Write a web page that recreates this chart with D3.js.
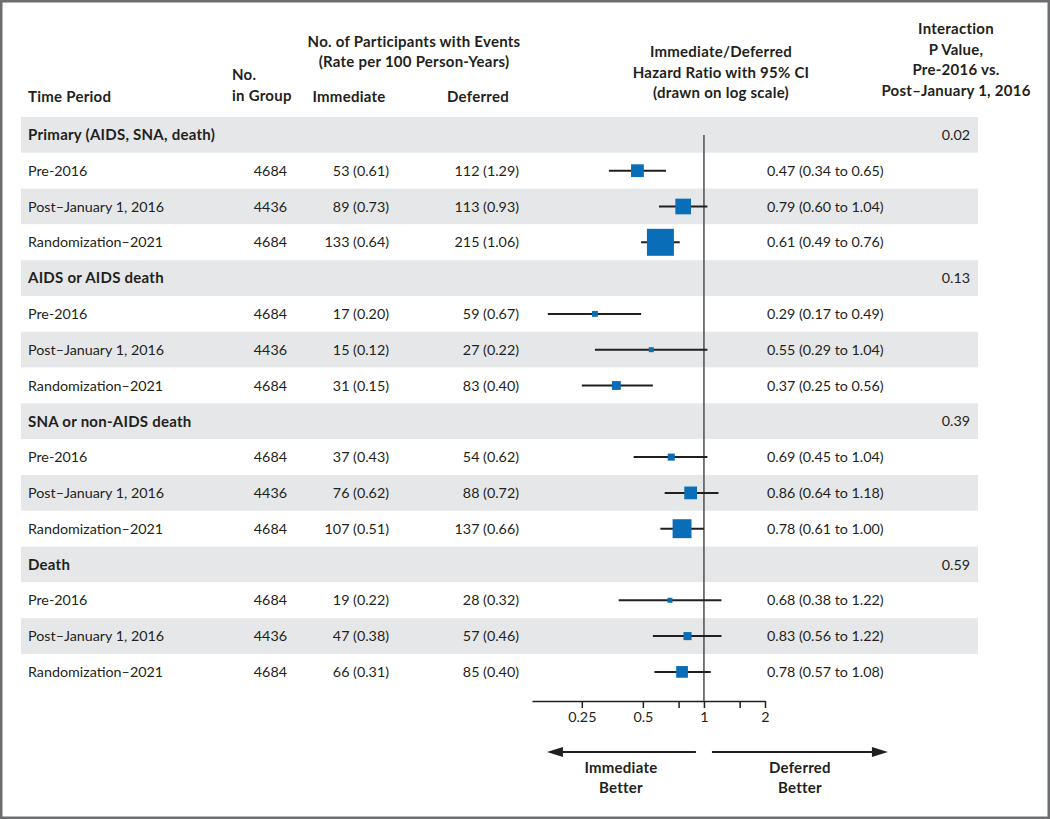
<!DOCTYPE html>
<html>
<head>
    <title>Hazard Ratios by Time Period</title>
    <script src="https://d3js.org/d3.v7.min.js"></script>
    <style>
        body {
            margin: 0;
            background: #fff;
        }
        svg text {
            font-family: Lato, "Noto Sans", sans-serif;
            font-size: 14.3px;
            fill: #231f20;
        }
        .hdr {
            font-weight: bold;
            font-size: 15px;
            letter-spacing: 0.25px;
        }
    </style>
</head>
<body>
    <div id="chart"></div>
    <script>
        // Data
        const groups = ["Primary (AIDS, SNA, death)", "AIDS or AIDS death", "SNA or non-AIDS death", "Death"];
        const pValues = ["0.02", "0.13", "0.39", "0.59"];
        const periods = ["Pre-2016", "Post\u2013January 1, 2016", "Randomization\u20132021"];
        const nInGroup = [4684, 4436, 4684];
        const immEvents = [[53, 89, 133], [17, 15, 31], [37, 76, 107], [19, 47, 66]];
        const immRate = [[0.61, 0.73, 0.64], [0.20, 0.12, 0.15], [0.43, 0.62, 0.51], [0.22, 0.38, 0.31]];
        const defEvents = [[112, 113, 215], [59, 27, 83], [54, 88, 137], [28, 57, 85]];
        const defRate = [[1.29, 0.93, 1.06], [0.67, 0.22, 0.40], [0.62, 0.72, 0.66], [0.32, 0.46, 0.40]];
        const hr = [[0.47, 0.79, 0.61], [0.29, 0.55, 0.37], [0.69, 0.86, 0.78], [0.68, 0.83, 0.78]];
        const ciLow = [[0.34, 0.60, 0.49], [0.17, 0.29, 0.25], [0.45, 0.64, 0.61], [0.38, 0.56, 0.57]];
        const ciHigh = [[0.65, 1.04, 0.76], [0.49, 1.04, 0.56], [1.04, 1.18, 1.00], [1.22, 1.22, 1.08]];
        const tickValues = [0.25, 0.5, 0.75, 1, 1.5, 2];
        const tickLabels = ["0.25", "0.5", "", "1", "", "2"];

        const W = 1050, H = 819;
        const f2 = d3.format(".2f");

        // Flatten into table rows
        const rows = [];
        groups.forEach((g, gi) => {
            rows.push({ header: true, label: g, p: pValues[gi] });
            periods.forEach((p, pi) => {
                rows.push({
                    header: false,
                    label: p,
                    n: nInGroup[pi],
                    imm: `${immEvents[gi][pi]} (${f2(immRate[gi][pi])})`,
                    def: `${defEvents[gi][pi]} (${f2(defRate[gi][pi])})`,
                    total: immEvents[gi][pi] + defEvents[gi][pi],
                    hr: hr[gi][pi],
                    lo: ciLow[gi][pi],
                    hi: ciHigh[gi][pi]
                });
            });
        });

        const svg = d3.select("#chart")
            .append("svg")
            .attr("width", W)
            .attr("height", H);

        svg.append("rect")
            .attr("x", 1.25).attr("y", 1.25)
            .attr("width", W - 2.5).attr("height", H - 2.5)
            .attr("fill", "#fff")
            .attr("stroke", "#6d6e70")
            .attr("stroke-width", 2.5);

        // Row layout
        const y = d3.scaleBand()
            .domain(d3.range(rows.length))
            .range([117, 117 + rows.length * 35.8])
            .padding(0);
        const yc = i => y(i) + y.bandwidth() / 2;

        // Log-scale x for hazard ratio
        const x = d3.scaleLog()
            .domain([0.142, 2])
            .range([532, 765]);

        const size = d3.scaleLinear()
            .domain([0, d3.max(rows, d => d.total || 0)])
            .range([0, 27]);

        // Striped bands
        svg.append("g")
            .selectAll("rect")
            .data(rows)
            .join("rect")
            .attr("x", 21)
            .attr("y", (d, i) => y(i))
            .attr("width", 978 - 21)
            .attr("height", y.bandwidth())
            .attr("fill", (d, i) => i % 2 === 0 ? "#e6e7e8" : "#fff");

        // Column headers
        const headers = [
            { t: "Time Period", x: 28, y: 97, a: "start" },
            { t: "No.", x: 232, y: 75, a: "start" },
            { t: "in Group", x: 232, y: 96, a: "start" },
            { t: "No. of Participants with Events", x: 414, y: 42, a: "middle" },
            { t: "(Rate per 100 Person-Years)", x: 414, y: 62, a: "middle" },
            { t: "Immediate", x: 349, y: 97, a: "middle" },
            { t: "Deferred", x: 478, y: 97, a: "middle" },
            { t: "Immediate/Deferred", x: 721, y: 52, a: "middle" },
            { t: "Hazard Ratio with 95% CI", x: 721, y: 73, a: "middle" },
            { t: "(drawn on log scale)", x: 721, y: 93, a: "middle" },
            { t: "Interaction", x: 956, y: 29, a: "middle" },
            { t: "P Value,", x: 956, y: 50, a: "middle" },
            { t: "Pre-2016 vs.", x: 956, y: 70, a: "middle" },
            { t: "Post\u2013January 1, 2016", x: 956, y: 91, a: "middle" }
        ];
        svg.append("g")
            .selectAll("text")
            .data(headers)
            .join("text")
            .attr("class", "hdr")
            .attr("x", d => d.x)
            .attr("y", d => d.y)
            .attr("dy", "0.35em")
            .attr("text-anchor", d => d.a)
            .text(d => d.t);

        // Table text
        const rowG = svg.append("g")
            .selectAll("g")
            .data(rows)
            .join("g")
            .attr("transform", (d, i) => `translate(0,${yc(i)})`);

        rowG.append("text")
            .attr("class", d => d.header ? "hdr" : null)
            .attr("x", 28)
            .attr("dy", "0.35em")
            .text(d => d.label);

        rowG.filter(d => d.header)
            .append("text")
            .attr("x", 970)
            .attr("dy", "0.35em")
            .attr("text-anchor", "end")
            .text(d => d.p);

        const dataRows = rowG.filter(d => !d.header);
        dataRows.append("text")
            .attr("x", 287).attr("dy", "0.35em").attr("text-anchor", "end")
            .text(d => d.n);
        dataRows.append("text")
            .attr("x", 389).attr("dy", "0.35em").attr("text-anchor", "end")
            .text(d => d.imm);
        dataRows.append("text")
            .attr("x", 519).attr("dy", "0.35em").attr("text-anchor", "end")
            .text(d => d.def);
        dataRows.append("text")
            .attr("x", 767).attr("dy", "0.35em")
            .text(d => `${f2(d.hr)} (${f2(d.lo)} to ${f2(d.hi)})`);

        // Axis
        const axisY = 701;
        const axis = d3.axisBottom(x)
            .tickValues(tickValues)
            .tickFormat((d, i) => tickLabels[i])
            .tickSizeInner(7)
            .tickSizeOuter(0)
            .tickPadding(4);
        const ax = svg.append("g")
            .attr("transform", `translate(0,${axisY})`)
            .call(axis);
        ax.select(".domain").attr("stroke", "#231f20").attr("stroke-width", 1.5);
        ax.selectAll(".tick line").attr("stroke", "#231f20").attr("stroke-width", 1.5);
        ax.selectAll(".tick text")
            .style("font-family", "Lato, 'Noto Sans', sans-serif")
            .style("font-size", "14.3px")
            .attr("fill", "#231f20");

        // Reference line at HR = 1
        svg.append("line")
            .attr("x1", x(1)).attr("x2", x(1))
            .attr("y1", yc(0)).attr("y2", axisY)
            .attr("stroke", "#4d4d4f")
            .attr("stroke-width", 1.5);

        // CI lines and squares
        const forest = svg.append("g")
            .selectAll("g")
            .data(rows.map((d, i) => ({ ...d, i })).filter(d => !d.header))
            .join("g");

        forest.append("line")
            .attr("x1", d => x(d.lo))
            .attr("x2", d => x(d.hi))
            .attr("y1", d => yc(d.i))
            .attr("y2", d => yc(d.i))
            .attr("stroke", "#231f20")
            .attr("stroke-width", 2);

        forest.append("rect")
            .each(function(d) {
                const s = Math.max(5, size(d.total));
                d3.select(this)
                    .attr("x", x(d.hr) - s / 2)
                    .attr("y", yc(d.i) - s / 2)
                    .attr("width", s)
                    .attr("height", s);
            })
            .attr("fill", "#0a6db7");

        // Direction arrows
        const arrowY = 752;
        const x1 = x(1);
        const arrows = [
            { from: x1 - 8, to: x1 - 157 },
            { from: x1 + 8, to: x1 + 184 }
        ];
        const ar = svg.append("g");
        arrows.forEach(a => {
            const dir = Math.sign(a.to - a.from);
            ar.append("line")
                .attr("x1", a.from).attr("x2", a.to - dir * 12)
                .attr("y1", arrowY).attr("y2", arrowY)
                .attr("stroke", "#231f20")
                .attr("stroke-width", 2);
            ar.append("path")
                .attr("d", `M${a.to},${arrowY} L${a.to - dir * 16},${arrowY - 5} L${a.to - dir * 16},${arrowY + 5} Z`)
                .attr("fill", "#231f20");
        });

        const better = [
            { t: "Immediate", x: x1 - 83, y: 768 },
            { t: "Better", x: x1 - 83, y: 788 },
            { t: "Deferred", x: x1 + 96, y: 768 },
            { t: "Better", x: x1 + 96, y: 788 }
        ];
        svg.append("g")
            .selectAll("text")
            .data(better)
            .join("text")
            .attr("class", "hdr")
            .attr("x", d => d.x)
            .attr("y", d => d.y)
            .attr("dy", "0.35em")
            .attr("text-anchor", "middle")
            .text(d => d.t);
    </script>
</body>
</html>
